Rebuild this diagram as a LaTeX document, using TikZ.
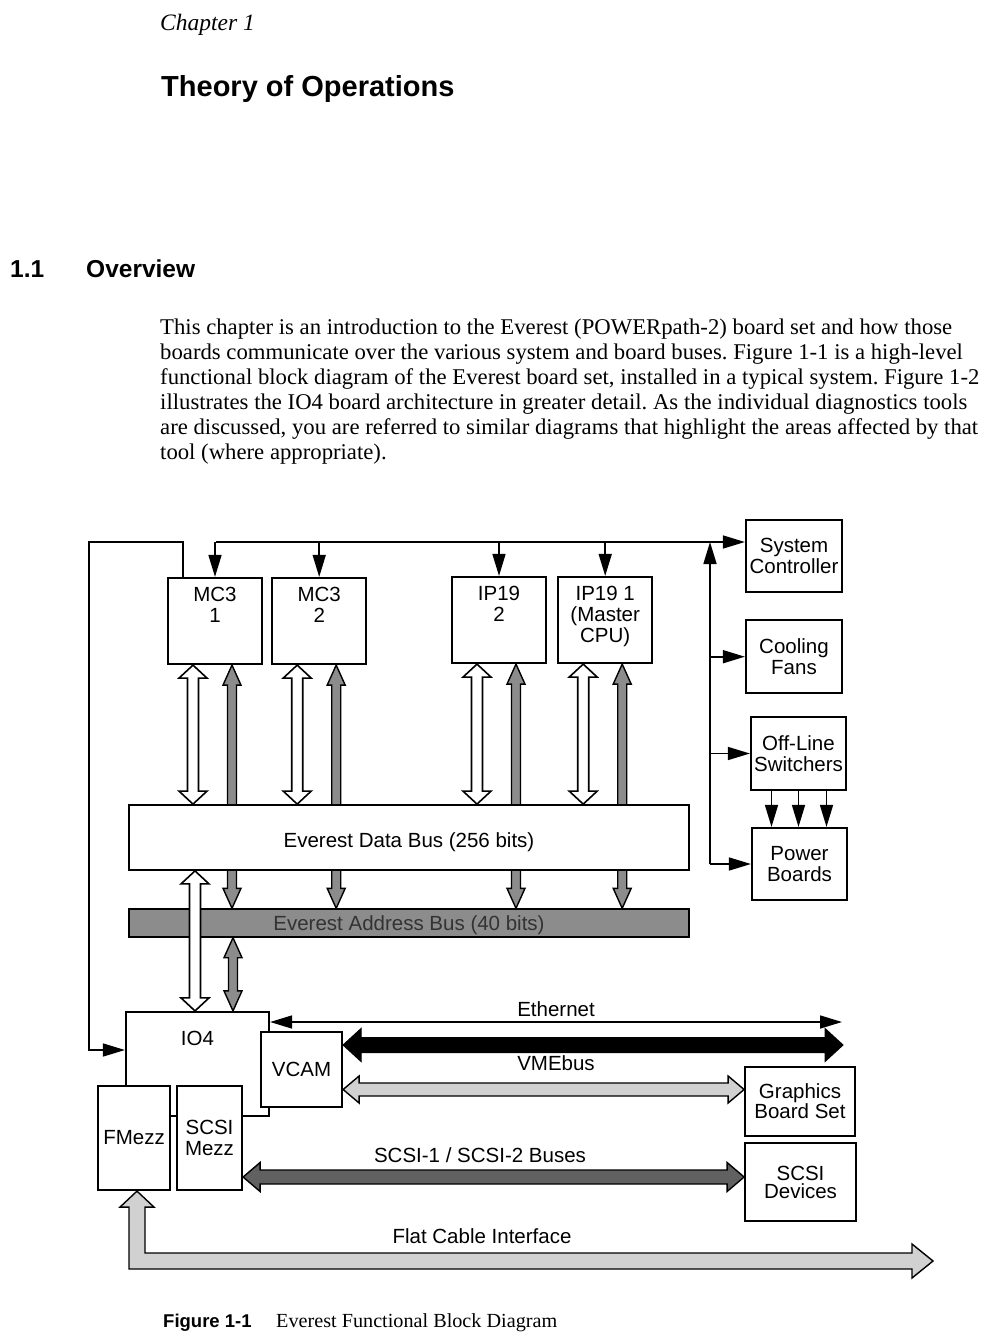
\documentclass[tikz,border=0pt]{standalone}
\usepackage{fontspec}
\setmainfont{Liberation Serif}
\setsansfont{Liberation Sans}
\newfontfamily\bodyfont[FakeStretch=1.01]{Liberation Serif}
\usetikzlibrary{arrows.meta,positioning,calc}
\newcommand\lbl{\sffamily\fontsize{20.5}{21}\selectfont}
\frenchspacing

\begin{document}
\begin{tikzpicture}[x=1pt, y=-1pt,
        >={Triangle[length=22pt,width=13pt]},
        box/.style={draw, line width=2.2pt, fill=white, font=\lbl, align=center, inner sep=0pt},
        board/.style={box, minimum width=94pt, minimum height=86pt},
        txt/.style={font=\lbl, align=center, inner sep=0pt},
        line/.style={line width=1.6pt},
        bus/.style n args={3}{to path={
            -- ($($(\tikztostart)!#3!(\tikztotarget)$)!#2!90:(\tikztotarget)$)
            -- ($($(\tikztostart)!#3!(\tikztotarget)$)!#1!90:(\tikztotarget)$)
            -- ($($(\tikztotarget)!#3!(\tikztostart)$)!#1!-90:(\tikztostart)$)
            -- ($($(\tikztotarget)!#3!(\tikztostart)$)!#2!-90:(\tikztostart)$)
            -- (\tikztotarget)
            -- ($($(\tikztotarget)!#3!(\tikztostart)$)!#2!90:(\tikztostart)$)
            -- ($($(\tikztotarget)!#3!(\tikztostart)$)!#1!90:(\tikztostart)$)
            -- ($($(\tikztostart)!#3!(\tikztotarget)$)!#1!-90:(\tikztotarget)$)
            -- ($($(\tikztostart)!#3!(\tikztotarget)$)!#2!-90:(\tikztotarget)$)
            -- cycle}},
        whitebus/.style={draw, line width=1.6pt, fill=white, bus={5.5pt}{14pt}{13pt}},
        graybus/.style={draw, line width=1.4pt, fill=black!45, bus={4.5pt}{9pt}{20pt}},
        vmebus/.style={draw, line width=1pt, fill=black, bus={7.5pt}{16.5pt}{18pt}},
        gfxbus/.style={draw, line width=1.4pt, fill=black!18, bus={6.5pt}{13.5pt}{16pt}},
        scsibus/.style={draw, line width=1.4pt, fill=black!62, bus={7pt}{14.5pt}{17pt}},
        flatbus/.style={draw, line width=1.4pt, fill=black!18}
      ]
        \fill[white] (0,0) rectangle (1004,1344);
        \useasboundingbox (0,0) rectangle (1004,1344);

        \node[font=\itshape\fontsize{23.5}{23}\selectfont, anchor=base west, inner sep=0pt] (chap) at (160,30) {Chapter 1};
        \node[font=\sffamily\bfseries\fontsize{29}{29}\selectfont, anchor=base west, inner sep=0pt] (title) at (161,96) {Theory of Operations};
        \node[font=\sffamily\bfseries\fontsize{24.5}{25}\selectfont, anchor=base west, inner sep=0pt] (secnum) at (10,277) {1.1};
        \node[font=\sffamily\bfseries\fontsize{24.5}{25}\selectfont, anchor=base west, inner sep=0pt] (sect) at (86,277) {Overview};
        \node[font=\bodyfont\fontsize{22.5}{25}\selectfont, align=left, anchor=north west, inner sep=0pt] (intro) at (160,319)
          {This chapter is an introduction to the Everest (POWERpath-2) board set and how those\\
           boards communicate over the various system and board buses. Figure 1-1 is a high-level\\
           functional block diagram of the Everest board set, installed in a typical system. Figure 1-2\\
           illustrates the IO4 board architecture in greater detail. As the individual diagnostics tools\\
           are discussed, you are referred to similar diagrams that highlight the areas affected by that\\
           tool (where appropriate).};

        \node[board, label={[txt, anchor=north, yshift=-10pt]north:MC3\\1}] (mcone) at (215,621) {};
        \node[board, label={[txt, anchor=north, yshift=-10pt]north:MC3\\2}, right=8pt of mcone] (mctwo) {};
        \node[board, label={[txt, anchor=north, yshift=-10pt]north:IP19\\2}] (iptwo) at (499,620) {};
        \node[board, label={[txt, anchor=north, yshift=-10pt]north:IP19 1\\(Master\\CPU)}, right=10pt of iptwo] (ipone) {};

        \node[box, minimum width=96pt, minimum height=72pt] (sysc) at (794,556) {System\\Controller};
        \node[box, minimum width=96pt, minimum height=73pt, below=26pt of sysc] (fans) {Cooling\\Fans};
        \node[box, minimum width=95pt, minimum height=73pt] (offl) at (798.5,753.5) {Off-Line\\Switchers};
        \node[box, minimum width=95pt, minimum height=72pt] (pwr) at (799.5,864) {Power\\Boards};

        \coordinate (tl) at (216,542);
        \coordinate (loop) at (89,542);
        \coordinate (vbot) at (710,864);
        \draw[line,->] (tl) -- (sysc.west |- tl);
        \foreach \b in {mcone,mctwo,iptwo,ipone}
          \draw[line,->] (\b.north |- tl) -- (\b.north);
        \draw[line,->] (vbot) -- (vbot |- tl);
        \foreach \b in {fans,offl,pwr}
          \draw[line,->] (vbot |- \b.west) -- (\b.west);
        \foreach \dx in {-27,0,28}
          \draw[line,->] ([xshift=\dx pt]offl.south) -- ([xshift=\dx pt]offl.south |- pwr.north);

        \node[box, line width=1.4pt, fill=black!45, minimum width=560pt, minimum height=28pt,
              label={[txt, text=black!80, yshift=-2pt]center:Everest Address Bus (40 bits)}] (abus) at (409,923) {};
        \foreach \b in {mcone,mctwo,iptwo,ipone}
          \draw[graybus] ([xshift=17pt]\b.south) to ([xshift=17pt]\b.south |- abus.north);
        \node[box, line width=1.8pt, minimum width=560pt, minimum height=65pt,
              label={[txt, yshift=-5pt]center:Everest Data Bus (256 bits)}] (dbus) at (409,837.5) {};
        \foreach \b in {mcone,mctwo,iptwo,ipone}
          \draw[whitebus] ([xshift=-22pt]\b.south) to ([xshift=-22pt]\b.south |- dbus.north);

        \node[box, minimum width=143pt, minimum height=104pt,
              label={[txt, anchor=north, yshift=-20pt]north:IO4}] (iofour) at (197.5,1064) {};
        \node[box, minimum width=81pt, minimum height=75pt] (vcam) at (301.5,1069.5) {VCAM};
        \node[box, minimum width=72pt, minimum height=104pt] (fmezz) at (134,1138) {FMezz};
        \node[box, minimum width=65pt, minimum height=104pt] (scsim) at (209.5,1138) {SCSI\\Mezz};
        \node[box, line width=1.8pt, minimum width=110pt, minimum height=69pt,
              font={\lbl\fontsize{20.5}{15}\selectfont}] (gfx) at (800,1101.5) {Graphics\\Board Set};
        \node[box, line width=1.8pt, minimum width=111pt, minimum height=78pt,
              font={\lbl\fontsize{20.5}{18}\selectfont}] (scsid) at (800.5,1182) {SCSI\\Devices};

        \draw[whitebus] ([xshift=-2.5pt]iofour.north) to ([xshift=-2.5pt]iofour.north |- dbus.south);
        \draw[graybus] ([xshift=35.5pt]iofour.north) to ([xshift=35.5pt]iofour.north |- abus.south);
        \draw[line,->] ([xshift=-32pt]mcone.north) |- (loop) |- ([yshift=14pt]iofour.west);

        \coordinate (ethend) at (842,1022);
        \draw[line,<->] (iofour.east |- ethend) -- node[txt, above=5pt] (ethtxt) {Ethernet} (ethend);
        \coordinate (vmeend) at (843,1045);
        \draw[vmebus] (vcam.east |- vmeend) to (vmeend);
        \node[txt] (vmetxt) at (556,1063) {VMEbus};
        \draw[gfxbus] ([yshift=-20pt]vcam.east) to ([yshift=-20pt]vcam.east -| gfx.west);
        \coordinate (scsiend) at ([yshift=5pt]scsid.west);
        \draw[scsibus] (scsim.east |- scsiend) to (scsiend);
        \node[txt] (scsitxt) at (480,1155) {SCSI-1 / SCSI-2 Buses};

        \coordinate (fc0) at ([xshift=3pt]fmezz.south);
        \coordinate (flatend) at (933,1261);
        \draw[flatbus] (fc0) -- ++(17,16) -- ++(-9,0) |- ([shift={(-21,-8)}]flatend) -- ++(0,-9)
          -- (flatend) -- ++(-21,17) -- ++(0,-9) -| ([shift={(-8,16)}]fc0) -- ++(-9,0) -- cycle;
        \node[txt] (flattxt) at (482,1236) {Flat Cable Interface};

        \node[font=\sffamily\bfseries\fontsize{18.5}{19}\selectfont, anchor=base west, inner sep=0pt] (fignum) at (163,1327) {Figure 1-1};
        \node[font=\bodyfont\fontsize{20}{20}\selectfont, anchor=base west, inner sep=0pt] (figcap) at (276,1327) {Everest Functional Block Diagram};
      \end{tikzpicture}
\end{document}
